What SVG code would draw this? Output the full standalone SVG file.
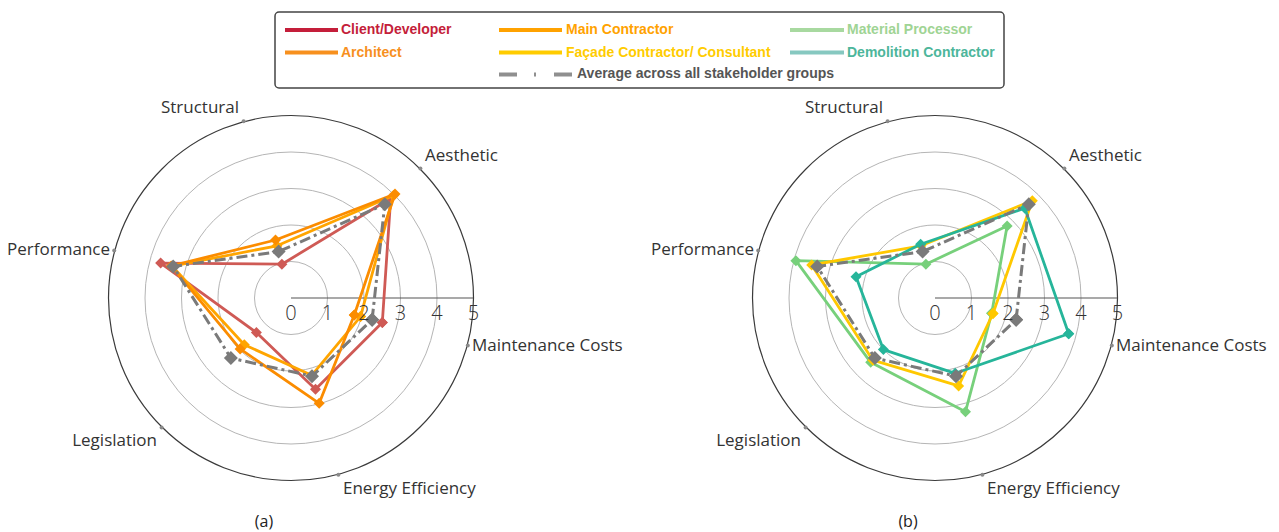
<svg xmlns="http://www.w3.org/2000/svg" width="1279" height="532" viewBox="0 0 1279 532">
<style>
.ring{fill:none;stroke:#b5b5b5;stroke-width:1}
.outer{fill:none;stroke:#3a3a3a;stroke-width:1.2}
.scale{stroke:#555;stroke-width:1.2}
.dot{fill:#8a8a8a}
.ax{font-family:"Open Sans","Noto Sans",sans-serif;font-size:17px;fill:#333}
.tick{font-family:"Open Sans","Noto Sans",sans-serif;font-size:20px;font-weight:300;fill:#333;text-anchor:middle}
.cap{font-family:"Open Sans","Noto Sans",sans-serif;font-size:16px;fill:#222;text-anchor:middle}
.lg{font-family:"Liberation Sans",Arial,sans-serif;font-size:14px;font-weight:bold;dominant-baseline:central}
.lgl{stroke-width:4;fill:none}
.ser{fill:none;stroke-width:2.8;stroke-linejoin:round}
.avg{fill:none;stroke:#7a7a7a;stroke-width:3;stroke-dasharray:11 4 3 4;stroke-linejoin:round}
</style>
<defs>
<marker id="mRed" viewBox="-6 -6 12 12" markerWidth="12" markerHeight="12" markerUnits="userSpaceOnUse"><path d="M0,-5.5L5.5,0L0,5.5L-5.5,0Z" fill="#cf5a55"/></marker>
<marker id="mArc" viewBox="-6 -6 12 12" markerWidth="12" markerHeight="12" markerUnits="userSpaceOnUse"><path d="M0,-5.5L5.5,0L0,5.5L-5.5,0Z" fill="#fb8c00"/></marker>
<marker id="mMain" viewBox="-6 -6 12 12" markerWidth="12" markerHeight="12" markerUnits="userSpaceOnUse"><path d="M0,-5.5L5.5,0L0,5.5L-5.5,0Z" fill="#ffa500"/></marker>
<marker id="mFac" viewBox="-6 -6 12 12" markerWidth="12" markerHeight="12" markerUnits="userSpaceOnUse"><path d="M0,-5.5L5.5,0L0,5.5L-5.5,0Z" fill="#ffc800"/></marker>
<marker id="mMat" viewBox="-6 -6 12 12" markerWidth="12" markerHeight="12" markerUnits="userSpaceOnUse"><path d="M0,-5.5L5.5,0L0,5.5L-5.5,0Z" fill="#77d07b"/></marker>
<marker id="mDem" viewBox="-6 -6 12 12" markerWidth="12" markerHeight="12" markerUnits="userSpaceOnUse"><path d="M0,-5.5L5.5,0L0,5.5L-5.5,0Z" fill="#26b59a"/></marker>
<marker id="mAvg" viewBox="-8 -8 16 16" markerWidth="16" markerHeight="16" markerUnits="userSpaceOnUse"><path d="M0,-7L7,0L0,7L-7,0Z" fill="#7a7a7a"/></marker>
</defs>
<rect width="1279" height="532" fill="#fff"/>

<g id="legend">
<rect x="275" y="12" width="729" height="76" rx="4" fill="#fff" stroke="#444" stroke-width="1.5"/>
<line class="lgl" x1="285" y1="30" x2="338" y2="30" stroke="#c41e3a"/>
<text class="lg" x="341" y="29" fill="#c41e3a">Client/Developer</text>
<line class="lgl" x1="285" y1="52.5" x2="338" y2="52.5" stroke="#f7901e"/>
<text class="lg" x="341" y="52" fill="#f7901e">Architect</text>
<line class="lgl" x1="499" y1="30" x2="562" y2="30" stroke="#ffa200"/>
<text class="lg" x="566" y="29" fill="#ffa200">Main Contractor</text>
<line class="lgl" x1="499" y1="52.5" x2="562" y2="52.5" stroke="#ffcc00"/>
<text class="lg" x="566" y="52" fill="#ffcc00">Façade Contractor/ Consultant</text>
<line class="lgl" x1="499" y1="74.5" x2="573" y2="74.5" stroke="#8f8f8f" stroke-dasharray="18 17 2 18"/>
<text class="lg" x="577" y="73" fill="#555">Average across all stakeholder groups</text>
<line class="lgl" x1="790" y1="30" x2="844" y2="30" stroke="#a8d9a0"/>
<text class="lg" x="847" y="29" fill="#9fd494">Material Processor</text>
<line class="lgl" x1="790" y1="52.5" x2="844" y2="52.5" stroke="#86c8c0"/>
<text class="lg" x="847" y="52" fill="#4db69b">Demolition Contractor</text>
</g>

<g id="chart-a">
<g id="grid-a">
<circle class="ring" cx="291" cy="298" r="36.5"/>
<circle class="ring" cx="291" cy="298" r="73"/>
<circle class="ring" cx="291" cy="298" r="109.5"/>
<circle class="ring" cx="291" cy="298" r="146"/>
<circle class="outer" cx="291" cy="298" r="182.5"/>
<line class="scale" x1="291" y1="298" x2="473" y2="298"/>
<circle class="dot" cx="467.8" cy="345.4" r="2"/>
<circle class="dot" cx="420.4" cy="168.6" r="2"/>
<circle class="dot" cx="243.6" cy="121.2" r="2"/>
<circle class="dot" cx="114.2" cy="250.6" r="2"/>
<circle class="dot" cx="161.6" cy="427.4" r="2"/>
<circle class="dot" cx="338.4" cy="474.8" r="2"/>
</g>
<g id="lines-a">
<polygon class="ser" stroke="#cf5a55" marker-start="url(#mRed)" marker-mid="url(#mRed)" marker-end="url(#mRed)" points="382.3,322.5 390.7,198.3 281.9,264.2 160.6,263.1 256.4,332.6 315.5,389.3"/>
<polygon class="ser" stroke="#ffa500" marker-start="url(#mMain)" marker-mid="url(#mMain)" marker-end="url(#mMain)" points="360.5,316.6 393.5,195.5 277,245.8 172.2,266.2 244.3,344.7 311.7,375.3"/>
<polygon class="ser" stroke="#fb8c00" marker-start="url(#mArc)" marker-mid="url(#mArc)" marker-end="url(#mArc)" points="354.3,315 395,194 275.5,240 171.2,265.9 240.1,348.9 319.2,403.3"/>
<polygon class="avg" marker-start="url(#mAvg)" marker-mid="url(#mAvg)" marker-end="url(#mAvg)" points="372.1,319.7 384.8,204.2 278.6,251.6 173.2,266.4 230.9,358.1 312,376.2"/>
</g>
<g id="labels-a">
<text class="tick" x="291" y="320">0</text>
<text class="tick" x="327.5" y="320">1</text>
<text class="tick" x="364" y="320">2</text>
<text class="tick" x="400.5" y="320">3</text>
<text class="tick" x="437" y="320">4</text>
<text class="tick" x="473.5" y="320">5</text>
<text class="ax" x="472" y="351">Maintenance Costs</text>
<text class="ax" x="425" y="161">Aesthetic</text>
<text class="ax" x="239" y="113" text-anchor="end">Structural</text>
<text class="ax" x="110" y="255" text-anchor="end">Performance</text>
<text class="ax" x="157" y="446" text-anchor="end">Legislation</text>
<text class="ax" x="343" y="494">Energy Efficiency</text>
<text class="cap" x="264" y="527">(a)</text>
</g>
</g>

<g id="chart-b">
<g id="grid-b">
<circle class="ring" cx="935" cy="298" r="36.5"/>
<circle class="ring" cx="935" cy="298" r="73"/>
<circle class="ring" cx="935" cy="298" r="109.5"/>
<circle class="ring" cx="935" cy="298" r="146"/>
<circle class="outer" cx="935" cy="298" r="182.5"/>
<line class="scale" x1="935" y1="298" x2="1117" y2="298"/>
<circle class="dot" cx="1111.8" cy="345.4" r="2"/>
<circle class="dot" cx="1064.4" cy="168.6" r="2"/>
<circle class="dot" cx="887.6" cy="121.2" r="2"/>
<circle class="dot" cx="758.2" cy="250.6" r="2"/>
<circle class="dot" cx="805.6" cy="427.4" r="2"/>
<circle class="dot" cx="982.4" cy="474.8" r="2"/>
</g>
<g id="lines-b">
<polygon class="ser" stroke="#77d07b" marker-start="url(#mMat)" marker-mid="url(#mMat)" marker-end="url(#mMat)" points="991.7,313.2 1007.1,225.9 925.9,264.2 795.9,260.7 870.7,362.3 965.5,411.7"/>
<polygon class="ser" stroke="#ffc800" marker-start="url(#mFac)" marker-mid="url(#mFac)" marker-end="url(#mFac)" points="993,313.5 1032.3,200.7 921,245.8 811.7,265 872.8,360.2 958.6,385.9"/>
<polygon class="ser" stroke="#26b59a" marker-start="url(#mDem)" marker-mid="url(#mDem)" marker-end="url(#mDem)" points="1068.7,333.8 1024.8,208.2 920.6,244.3 856,276.8 883.4,349.6 955.2,373.3"/>
<polygon class="avg" marker-start="url(#mAvg)" marker-mid="url(#mAvg)" marker-end="url(#mAvg)" points="1016.1,319.7 1028.8,204.2 922.6,251.6 817.2,266.4 874.9,358.1 956,376.2"/>
</g>
<g id="labels-b">
<text class="tick" x="935" y="320">0</text>
<text class="tick" x="971.5" y="320">1</text>
<text class="tick" x="1008" y="320">2</text>
<text class="tick" x="1044.5" y="320">3</text>
<text class="tick" x="1081" y="320">4</text>
<text class="tick" x="1117.5" y="320">5</text>
<text class="ax" x="1116" y="351">Maintenance Costs</text>
<text class="ax" x="1069" y="161">Aesthetic</text>
<text class="ax" x="883" y="113" text-anchor="end">Structural</text>
<text class="ax" x="754" y="255" text-anchor="end">Performance</text>
<text class="ax" x="801" y="446" text-anchor="end">Legislation</text>
<text class="ax" x="987" y="494">Energy Efficiency</text>
<text class="cap" x="908" y="527">(b)</text>
</g>
</g>
</svg>
